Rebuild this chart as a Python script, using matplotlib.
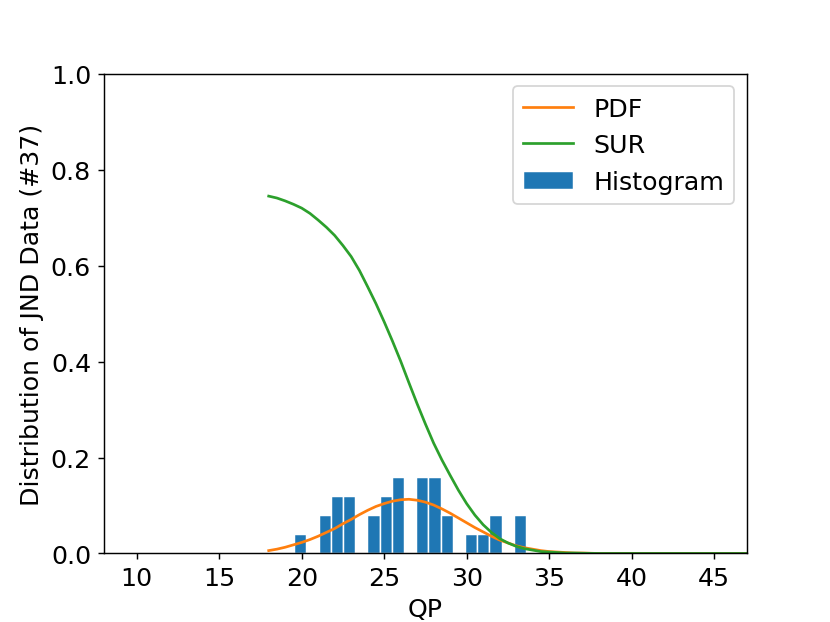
import matplotlib
matplotlib.use("Agg")
import matplotlib.pyplot as plt

plt.rcParams['font.size'] = 14

# fitted curves, sampled every 0.5 QP up to 37, then integer steps
qp = [18 + 0.5 * i for i in range(39)] + list(range(38, 48))
pdf = [0.006, 0.009, 0.013, 0.018, 0.023, 0.029, 0.036, 0.044, 0.052, 0.062,
       0.071, 0.081, 0.090, 0.098, 0.104, 0.109, 0.112, 0.113, 0.111, 0.107,
       0.101, 0.093, 0.084, 0.074, 0.064, 0.054, 0.045, 0.036, 0.028, 0.022,
       0.016, 0.012, 0.009, 0.006, 0.004, 0.003, 0.002, 0.001, 0.001] + [0.0] * 10
sur = [0.745, 0.741, 0.735, 0.728, 0.720, 0.709, 0.695, 0.680, 0.663, 0.642,
       0.619, 0.590, 0.556, 0.521, 0.483, 0.443, 0.401, 0.356, 0.312, 0.270,
       0.230, 0.195, 0.163, 0.132, 0.104, 0.080, 0.060, 0.044, 0.031, 0.022,
       0.015, 0.010, 0.007, 0.004, 0.003, 0.002, 0.001, 0.001, 0.0005] + [0.0] * 10

# histogram bars (bin centres and heights)
bin_centers = [19.91, 21.39, 22.13, 22.87, 24.35, 25.09, 25.83,
               27.31, 28.05, 28.79, 30.27, 31.01, 31.75, 33.23]
bin_heights = [0.04, 0.08, 0.12, 0.12, 0.08, 0.12, 0.16,
               0.16, 0.16, 0.08, 0.04, 0.04, 0.08, 0.08]
bin_width = 0.74

fig, ax = plt.subplots(figsize=(6.385, 4.792), dpi=130)

ax.bar(bin_centers, bin_heights, width=bin_width, color='#1f77b4',
       edgecolor='white', linewidth=0.8, label='Histogram')
ax.plot(qp, pdf, color='#ff7f0e', label='PDF')
ax.plot(qp, sur, color='#2ca02c', label='SUR')

ax.set_xlim(8, 47)
ax.set_ylim(0, 1.0)
ax.set_xlabel('QP')
ax.set_ylabel('Distribution of JND Data (#37)')
ax.legend(loc='upper right')

fig.savefig('out.png', dpi=130)
